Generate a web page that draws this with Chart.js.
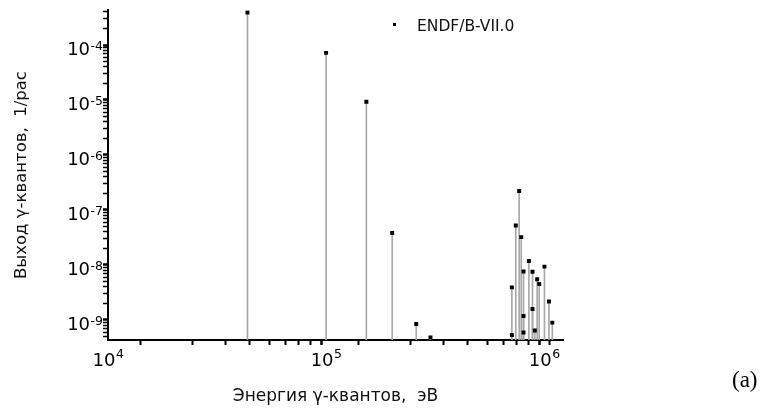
<!DOCTYPE html>
<html>
<head>
<meta charset="utf-8">
<script src="https://cdn.jsdelivr.net/npm/chart.js@4.4.1/dist/chart.umd.min.js"></script>
<style>
  html, body { margin: 0; padding: 0; background: #fff; }
  #wrap { position: relative; width: 776px; height: 416px; }
  #legend { position: absolute; left: 393px; top: 17px; font: 15.5px "DejaVu Sans", sans-serif; color: #111; }
  #legend .mark { display: inline-block; width: 3px; height: 3px; background: #000; vertical-align: middle; margin-right: 21px; position: relative; top: -2px; }
  #tag { position: absolute; left: 732px; top: 367px; font: 23px "Liberation Serif", "Times New Roman", serif; color: #000; }
</style>
</head>
<body>
<div id="wrap">
  <canvas id="chart" width="776" height="416"></canvas>
  <div id="legend"><span class="mark"></span>ENDF/B-VII.0</div>
  <div id="tag">(a)</div>
</div>
<script>
// энергии гамма-линий, эВ
const energies = [43600, 100000, 153000, 201000, 259000, 301000,
  711000, 711000, 741000, 768000, 785000, 804000, 804000, 804000,
  851000, 884000, 884000, 906000, 929000, 949000, 1003000, 1052000, 1090000];
// выход, 1/рас
const yields = [3.9e-4, 7.2e-5, 9.3e-6, 3.8e-8, 8.4e-10, 4.8e-10,
  3.9e-9, 5.3e-10, 5.2e-8, 2.2e-7, 3.2e-8, 7.6e-9, 1.18e-9, 5.9e-10,
  1.18e-8, 7.5e-9, 1.57e-9, 6.4e-10, 5.5e-9, 4.5e-9, 9.3e-9, 2.15e-9, 8.9e-10];
// подписи делений: показатели степени
const xTickExps = [4, 5, 6];
const yTickExps = [-9, -8, -7, -6, -5, -4];
const seriesName = 'ENDF/B-VII.0';
const xTitle = 'Энергия γ-квантов,  эВ';
const yTitle = 'Выход γ-квантов,  1/рас';

const points = energies.map((e, i) => ({ x: e, y: yields[i] }));

const isPow10 = v => Math.abs(Math.log10(v) - Math.round(Math.log10(v))) < 1e-6;
// оставляем только "круглые" деления 1..9 x 10^n
const niceTicks = scale => {
  scale.ticks = scale.ticks.filter(t => {
    const m = t.value / Math.pow(10, Math.floor(Math.log10(t.value) + 1e-9));
    return Math.abs(m - Math.round(m)) < 1e-6;
  });
};
const tickW = (major, minor) => ctx => (ctx.tick && isPow10(ctx.tick.value)) ? major : minor;

const baseFont = '18px "DejaVu Sans", sans-serif';
const expFont = '12.5px "DejaVu Sans", sans-serif';

// подписи вида 10^n с верхним индексом
const powerLabels = {
  id: 'powerLabels',
  afterDraw(chart) {
    const { ctx, scales: { x, y } } = chart;
    ctx.save();
    ctx.fillStyle = '#000';
    ctx.textBaseline = 'alphabetic';
    ctx.textAlign = 'left';
    xTickExps.forEach(n => {
      const px = x.getPixelForValue(Math.pow(10, n));
      ctx.font = baseFont;
      const w1 = ctx.measureText('10').width;
      ctx.font = expFont;
      const w2 = ctx.measureText(String(n)).width;
      const left = px - (w1 + w2) / 2;
      const base = x.top + 26;
      ctx.font = baseFont;
      ctx.fillText('10', left, base);
      ctx.font = expFont;
      ctx.fillText(String(n), left + w1 + 0.5, base - 8);
    });
    yTickExps.forEach(n => {
      const py = y.getPixelForValue(Math.pow(10, n));
      const s = String(n);
      ctx.font = expFont;
      const w2 = ctx.measureText(s).width;
      ctx.font = baseFont;
      const w1 = ctx.measureText('10').width;
      const right = y.right - 5;
      ctx.fillText('10', right - w2 - w1 - 0.5, py + 10);
      ctx.font = expFont;
      ctx.fillText(s, right - w2, py + 5);
    });
    ctx.restore();
  },
};

new Chart(document.getElementById('chart'), {
  type: 'scatter',
  data: {
    datasets: [
      {
        label: seriesName,
        data: points,
        pointStyle: 'rect',
        pointRadius: 2.8,
        backgroundColor: '#000',
        borderColor: '#000',
        borderWidth: 0,
        order: 0,
      },
      {
        type: 'bar',
        label: 'stems',
        data: points,
        backgroundColor: '#a8a8a8',
        barThickness: 1,
        grouped: false,
        order: 1,
      },
    ],
  },
  options: {
    responsive: false,
    animation: false,
    layout: { padding: { top: 10, right: 213, left: 0, bottom: 0 } },
    plugins: {
      legend: { display: false },
      tooltip: { enabled: false },
    },
    scales: {
      x: {
        type: 'logarithmic',
        min: 1e4,
        max: 1.22e6,
        offset: false,
        afterBuildTicks: niceTicks,
        afterFit: s => { s.height = 76; },
        border: { color: '#000', width: 2 },
        grid: {
          drawOnChartArea: false,
          tickLength: 5,
          tickColor: '#000',
          tickWidth: tickW(2.5, 2),
        },
        ticks: { autoSkip: false, maxRotation: 0, callback: () => '' },
        title: {
          display: true,
          text: xTitle,
          color: '#111',
          font: { family: '"DejaVu Sans", sans-serif', size: 17 },
          padding: { top: 0, bottom: 9 },
        },
      },
      y: {
        type: 'logarithmic',
        min: 4.3e-10,
        max: 4.3e-4,
        afterBuildTicks: niceTicks,
        afterFit: s => { s.width = 108; },
        border: { color: '#000', width: 2 },
        grid: {
          drawOnChartArea: false,
          tickLength: 5,
          tickColor: '#000',
          tickWidth: tickW(2.5, 1.5),
        },
        ticks: { autoSkip: false, callback: () => '' },
        title: {
          display: true,
          text: yTitle,
          color: '#111',
          font: { family: '"DejaVu Sans", sans-serif', size: 16.5 },
          padding: { top: 12, bottom: 0 },
        },
      },
    },
  },
  plugins: [powerLabels],
});
</script>
</body>
</html>
